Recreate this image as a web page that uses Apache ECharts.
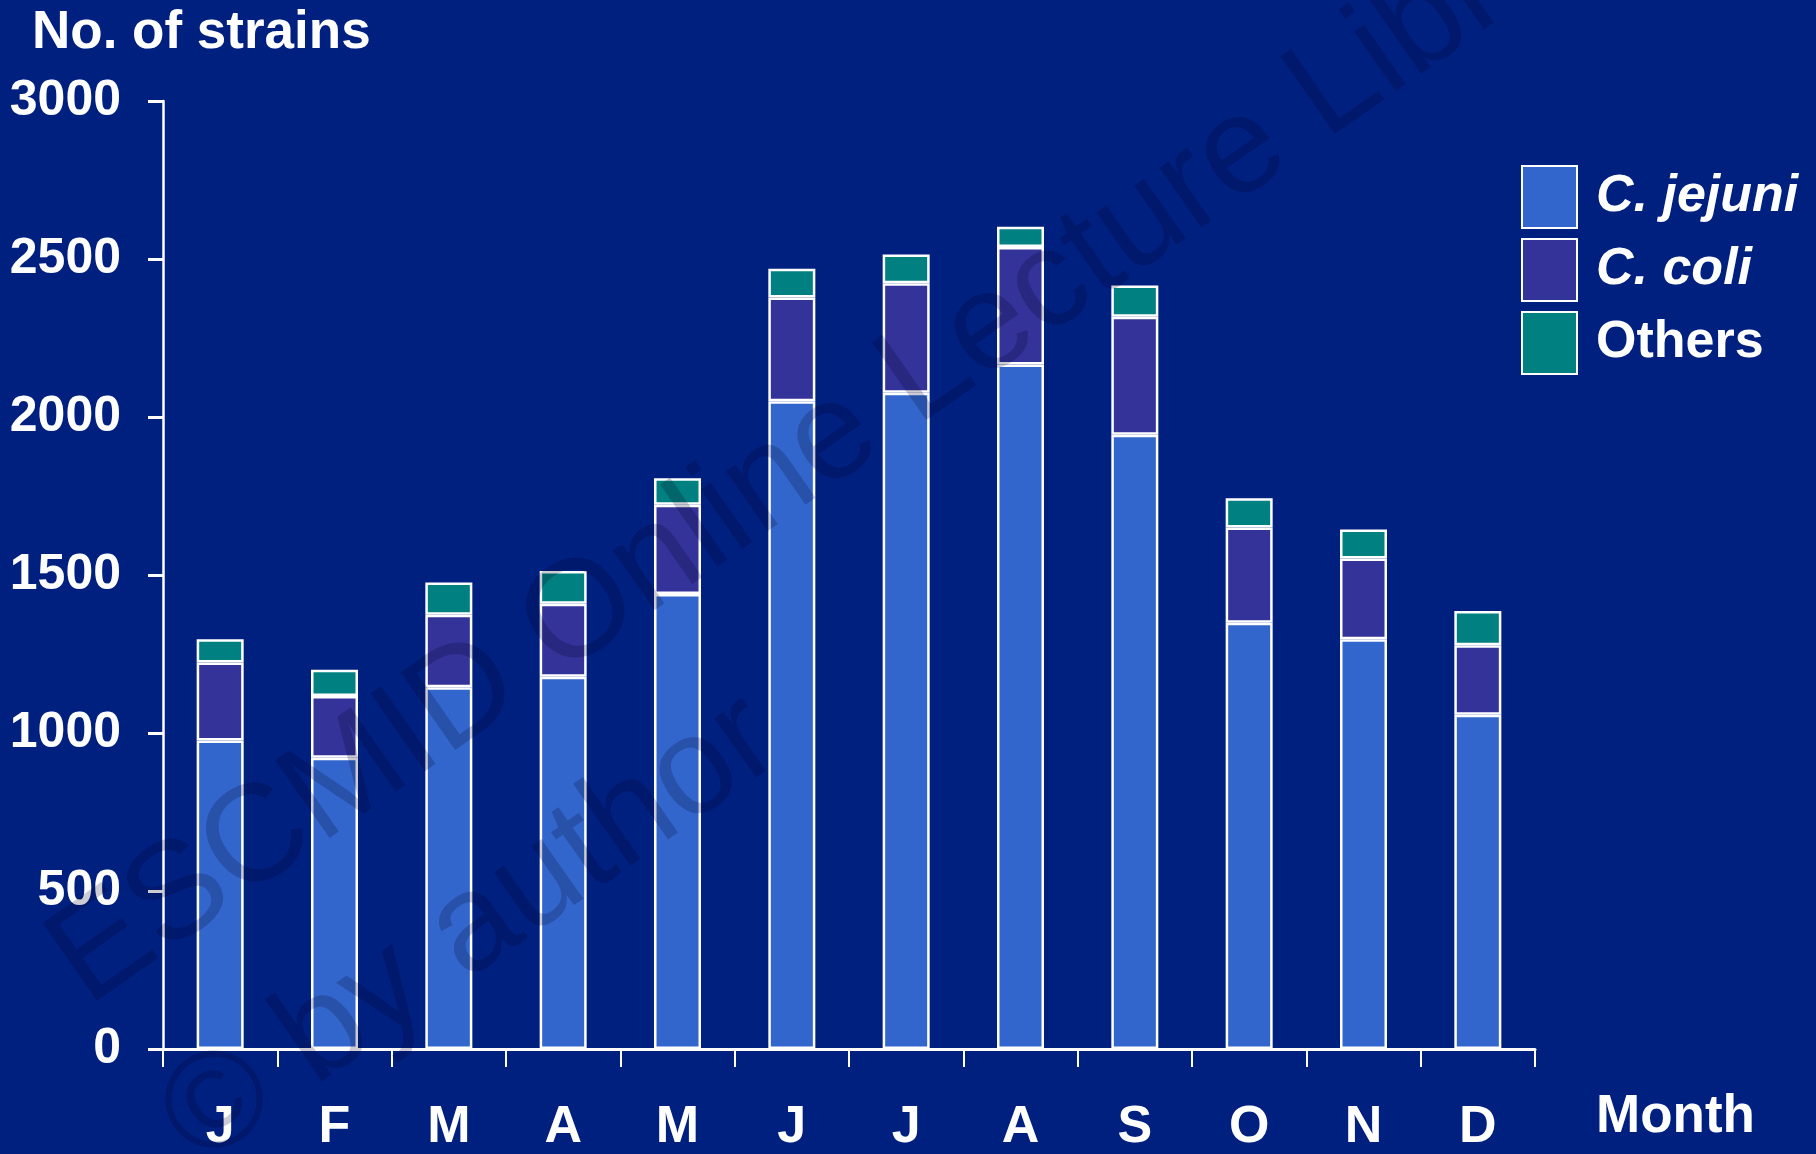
<!DOCTYPE html>
<html>
<head>
<meta charset="utf-8">
<script src="https://cdn.jsdelivr.net/npm/echarts@6/dist/echarts.min.js"></script>
<style>
  html, body { margin: 0; padding: 0; background: #002080; }
  #chart { width: 1816px; height: 1154px; }
</style>
</head>
<body>
<div id="chart"></div>
<script>
const months = ["J", "F", "M", "A", "M", "J", "J", "A", "S", "O", "N", "D"];
const jejuni = [976, 922, 1145, 1178, 1440, 2050, 2077, 2166, 1944, 1349, 1297, 1058];
const coli = [247, 195, 229, 231, 282, 328, 346, 372, 373, 301, 255, 220];
const others = [74, 83, 102, 104, 84, 91, 91, 64, 99, 93, 92, 108];
const seriesNames = ["C. jejuni", "C. coli", "Others"];
const yTicks = { min: 0, max: 3000, step: 500 };

const font = "'Liberation Sans', Arial, sans-serif";
const colors = ["#3366cc", "#333399", "#008080"]; // jejuni, coli, others
const watermarkColor = "rgba(0, 0, 30, 0.2)";
const wmAngle = (35 * Math.PI) / 180;

const chart = echarts.init(document.getElementById("chart"));

const makeSeries = (name, data, color) => ({
  name: name,
  type: "bar",
  stack: "total",
  data: data,
  barWidth: 47,
  itemStyle: { color: color, borderColor: "#ffffff", borderWidth: 2.5 },
});

chart.setOption({
  backgroundColor: "#002080",
  animation: false,
  textStyle: { fontFamily: font },
  title: {
    text: "No. of strains",
    left: 27,
    top: 2,
    textStyle: { color: "#fff", fontSize: 53, fontWeight: "bold", fontFamily: font },
  },
  legend: {
    orient: "vertical",
    left: 1521,
    top: 165,
    padding: 0,
    itemWidth: 55,
    itemHeight: 62,
    itemGap: 9,
    icon: "rect",
    textStyle: {
      color: "#fff",
      fontSize: 52,
      fontWeight: "bold",
      fontFamily: font,
      padding: [0, 0, 0, 14],
    },
    data: [
      { name: seriesNames[0], textStyle: { fontStyle: "italic" } },
      { name: seriesNames[1], textStyle: { fontStyle: "italic" } },
      { name: seriesNames[2] },
    ],
  },
  grid: { left: 163, right: 281, top: 101, bottom: 104, containLabel: false },
  xAxis: {
    type: "category",
    data: months,
    axisLine: { lineStyle: { color: "#fff", width: 3 } },
    axisTick: { show: true, length: 18, lineStyle: { color: "#fff", width: 2 } },
    axisLabel: {
      color: "#fff",
      fontSize: 52,
      fontWeight: "bold",
      fontFamily: font,
      margin: 53,
    },
  },
  yAxis: {
    type: "value",
    min: yTicks.min,
    max: yTicks.max,
    interval: yTicks.step,
    axisLine: { show: true, lineStyle: { color: "#fff", width: 2.5 } },
    axisTick: { show: true, length: 15, lineStyle: { color: "#fff", width: 3 } },
    splitLine: { show: false },
    axisLabel: {
      color: "#fff",
      fontSize: 50,
      fontWeight: "bold",
      fontFamily: font,
      margin: 42,
      formatter: (v) => String(v),
    },
  },
  series: [
    makeSeries(seriesNames[0], jejuni, colors[0]),
    makeSeries(seriesNames[1], coli, colors[1]),
    makeSeries(seriesNames[2], others, colors[2]),
  ],
  graphic: [
    {
      type: "text",
      left: 1596,
      top: 1091,
      style: {
        text: "Month",
        fill: "#fff",
        font: "bold 53px " + font,
      },
    },
    // faint watermark over everything
    {
      type: "text",
      x: 66,
      y: 976,
      rotation: wmAngle,
      z: 100,
      silent: true,
      style: {
        text: "ESCMID Online Lecture Library",
        fill: watermarkColor,
        font: "138px " + font,
        verticalAlign: "middle",
      },
    },
    {
      type: "text",
      x: 178,
      y: 1136,
      rotation: wmAngle,
      z: 100,
      silent: true,
      style: {
        text: "© by author",
        fill: watermarkColor,
        font: "138px " + font,
        verticalAlign: "middle",
      },
    },
  ],
});

window.addEventListener("resize", () => chart.resize());
</script>
</body>
</html>
